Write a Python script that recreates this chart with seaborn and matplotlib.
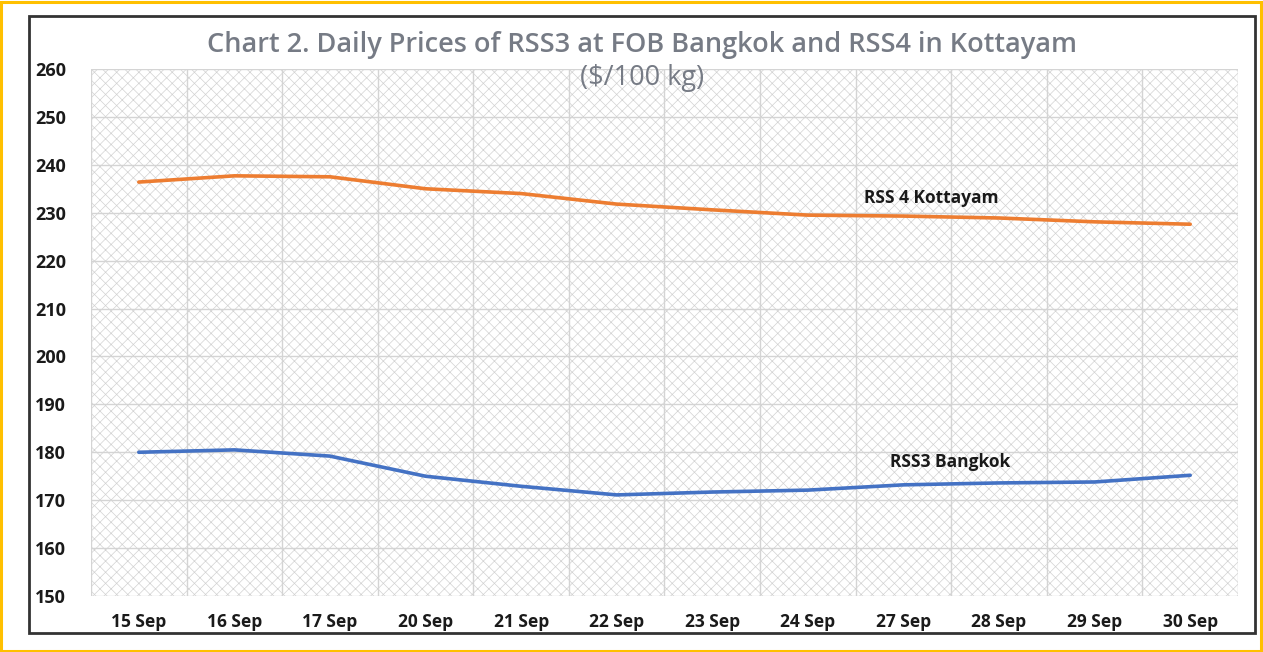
import matplotlib
matplotlib.use("Agg")
import matplotlib.pyplot as plt
import seaborn as sns
import pandas as pd
import numpy as np
from matplotlib.patches import Rectangle

dates = ["15 Sep", "16 Sep", "17 Sep", "20 Sep", "21 Sep", "22 Sep",
         "23 Sep", "24 Sep", "27 Sep", "28 Sep", "29 Sep", "30 Sep"]
rss4_kottayam = [236.4, 237.7, 237.5, 235.0, 234.0, 231.8, 230.6, 229.5, 229.3, 228.9, 228.1, 227.6]
rss3_bangkok = [180.0, 180.5, 179.2, 175.0, 172.9, 171.1, 171.7, 172.1, 173.2, 173.6, 173.8, 175.2]
yticks = list(range(150, 261, 10))

sns.set_theme(style="white")
plt.rcParams['font.family'] = ['Open Sans', 'DejaVu Sans']
plt.rcParams['hatch.linewidth'] = 0.5

W, H = 1263, 652
fig = plt.figure(figsize=(W / 100, H / 100), dpi=100)
fig.patch.set_facecolor("white")

# outer yellow border and inner black frame
fig.add_artist(Rectangle((1 / W, 1 / H), (W - 3) / W, (H - 3) / H, transform=fig.transFigure,
                         fill=False, edgecolor="#FFC000", linewidth=2.2))
fig.add_artist(Rectangle((29 / W, 1 - 633 / H), (1255 - 29) / W, (633 - 16) / H, transform=fig.transFigure,
                         fill=False, edgecolor="#333333", linewidth=2.0))

ax = fig.add_axes([91 / W, 1 - 596 / H, (1238 - 91) / W, (596 - 69) / H])

x = np.arange(len(dates))
df = pd.DataFrame({"x": np.concatenate([x, x]),
                   "price": rss4_kottayam + rss3_bangkok,
                   "series": ["RSS 4 Kottayam"] * len(x) + ["RSS3 Bangkok"] * len(x)})

# patterned background
ax.add_patch(Rectangle((0, 0), 1, 1, transform=ax.transAxes, facecolor="white",
                       edgecolor="#d2d2d2", hatch="xxx", linewidth=0, zorder=0))

sns.lineplot(data=df, x="x", y="price", hue="series",
             palette={"RSS 4 Kottayam": "#ED7D31", "RSS3 Bangkok": "#4472C4"},
             linewidth=2.6, legend=False, ax=ax, zorder=3)

ax.set_xlim(-0.5, len(dates) - 0.5)
ax.set_ylim(150, 260)
ax.set_yticks(yticks)
ax.set_yticklabels([str(v) for v in yticks])
ax.set_xticks(x)
ax.set_xticklabels(dates)
ax.set_xticks(np.arange(-0.5, len(dates), 0.5), minor=True)
ax.grid(which="major", axis="y", color="#d4d4d4", linewidth=1.0, zorder=1)
ax.grid(which="minor", axis="x", color="#d4d4d4", linewidth=1.0, zorder=1)
ax.set_axisbelow(True)
for s in ax.spines.values():
    s.set_visible(False)
ax.tick_params(axis="y", which="both", length=0, pad=18, labelsize=13, labelcolor="#1a1a1a")
ax.tick_params(axis="x", which="both", length=0, pad=12, labelsize=12.5, labelcolor="#1a1a1a")
for lbl in ax.get_yticklabels():
    lbl.set_fontweight("bold")
for lbl in ax.get_xticklabels():
    lbl.set_fontweight("bold")
ax.set_xlabel("")
ax.set_ylabel("")

ax.text(8.29, 233.1, "RSS 4 Kottayam", fontsize=12.5, fontweight="bold", color="#1a1a1a", va="center", ha="center")
ax.text(8.49, 178.0, "RSS3 Bangkok", fontsize=12.5, fontweight="bold", color="#1a1a1a", va="center", ha="center")

fig.text(0.508, 1 - 45 / H, "Chart 2. Daily Prices of RSS3 at FOB Bangkok and RSS4 in Kottayam",
         ha="center", va="center", fontsize=19.5, color="#767b85", fontweight="semibold")
fig.text(0.508, 1 - 78 / H, "($/100 kg)", ha="center", va="center", fontsize=19.5,
         color="#767b85")

fig.savefig("out.png", dpi=100)
